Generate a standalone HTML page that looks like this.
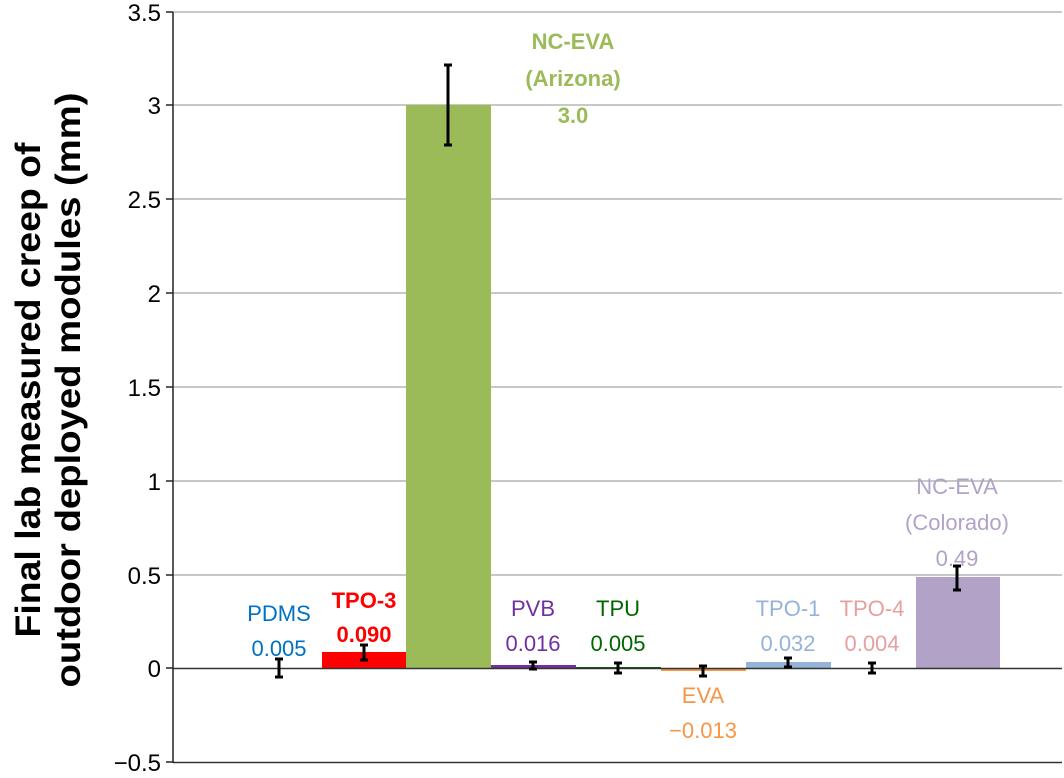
<!DOCTYPE html>
<html><head><meta charset="utf-8"><style>
html,body{margin:0;padding:0;background:#fff}
text{font-family:"Liberation Sans",sans-serif}
</style></head><body>
<svg width="1064" height="773" viewBox="0 0 1064 773" xmlns="http://www.w3.org/2000/svg">
<g stroke="#a6a6a6" stroke-width="1.3">
<line x1="173" x2="1062" y1="12" y2="12"/><line x1="173" x2="1062" y1="105" y2="105"/>
<line x1="173" x2="1062" y1="199" y2="199"/><line x1="173" x2="1062" y1="293" y2="293"/>
<line x1="173" x2="1062" y1="387" y2="387"/><line x1="173" x2="1062" y1="481" y2="481"/>
<line x1="173" x2="1062" y1="575" y2="575"/>
</g>
<rect x="322" y="652" width="84" height="16" fill="#ff0000"/>
<rect x="406" y="105" width="85" height="563" fill="#9bbb59"/>
<rect x="491" y="665" width="85" height="3" fill="#7030a0"/>
<rect x="576" y="667" width="85" height="1" fill="#006600"/>
<rect x="661" y="668" width="85" height="3" fill="#f79646"/>
<rect x="746" y="662" width="85" height="6" fill="#95b3d7"/>
<rect x="916" y="577" width="84" height="91" fill="#b2a2c7"/>
<line x1="173" x2="1062" y1="668.5" y2="668.5" stroke="#333" stroke-width="1.5"/>
<line x1="173" x2="1062" y1="762.5" y2="762.5" stroke="#333" stroke-width="1.5"/>
<line x1="173" x2="173" y1="12" y2="763" stroke="#222" stroke-width="1.5"/>
<g stroke="#222" stroke-width="1.5">
<line x1="166" x2="173" y1="12" y2="12"/><line x1="166" x2="173" y1="105" y2="105"/>
<line x1="166" x2="173" y1="199" y2="199"/><line x1="166" x2="173" y1="293" y2="293"/>
<line x1="166" x2="173" y1="387" y2="387"/><line x1="166" x2="173" y1="481" y2="481"/>
<line x1="166" x2="173" y1="575" y2="575"/><line x1="166" x2="173" y1="668" y2="668"/>
<line x1="166" x2="173" y1="762" y2="762"/>
</g>
<g stroke="#000" stroke-width="3">
<path d="M279 659V677M275 659H283M275 677H283"/>
<path d="M364 645V660M360 645H368M360 660H368"/>
<path d="M448 65V145M444 65H452M444 145H452"/>
<path d="M533 662V669M529 662H537M529 669H537"/>
<path d="M618 663V673M614 663H622M614 673H622"/>
<path d="M703 666V676M699 666H707M699 676H707"/>
<path d="M788 658V667M784 658H792M784 667H792"/>
<path d="M872 663V673M868 663H876M868 673H876"/>
<path d="M957 566V590M953 566H961M953 590H961"/>
</g>
<g font-size="24" fill="#000" text-anchor="end">
<text x="161" y="21">3.5</text><text x="161" y="114">3</text><text x="161" y="208">2.5</text>
<text x="161" y="302">2</text><text x="161" y="396">1.5</text><text x="161" y="490">1</text>
<text x="161" y="584">0.5</text><text x="161" y="677">0</text><text x="161" y="771">−0.5</text>
</g>
<g transform="translate(40,390) rotate(-90)" font-size="35" font-weight="bold" text-anchor="middle">
<text x="0" y="0" textLength="495" lengthAdjust="spacingAndGlyphs">Final lab measured creep of</text>
<text x="0" y="40" textLength="595" lengthAdjust="spacingAndGlyphs">outdoor deployed modules (mm)</text>
</g>
<g font-size="22" text-anchor="middle">
<text x="279" y="621" fill="#0070c0">PDMS</text><text x="279" y="656" fill="#0070c0">0.005</text>
<text x="364" y="608" fill="#ff0000" font-weight="bold">TPO-3</text><text x="364" y="642" fill="#ff0000" font-weight="bold">0.090</text>
<text x="573" y="49" fill="#9bbb59" font-weight="bold">NC-EVA</text>
<text x="573" y="86" fill="#9bbb59" font-weight="bold">(Arizona)</text>
<text x="573" y="123" fill="#9bbb59" font-weight="bold">3.0</text>
<text x="533" y="616" fill="#7030a0">PVB</text><text x="533" y="651" fill="#7030a0">0.016</text>
<text x="618" y="616" fill="#006600">TPU</text><text x="618" y="651" fill="#006600">0.005</text>
<text x="703" y="703" fill="#f79646">EVA</text><text x="703" y="738" fill="#f79646">−0.013</text>
<text x="788" y="616" fill="#95b3d7">TPO-1</text><text x="788" y="651" fill="#95b3d7">0.032</text>
<text x="872" y="616" fill="#e6a0a0">TPO-4</text><text x="872" y="651" fill="#e6a0a0">0.004</text>
<text x="957" y="494" fill="#b2a2c7">NC-EVA</text>
<text x="957" y="530" fill="#b2a2c7">(Colorado)</text>
<text x="957" y="566" fill="#b2a2c7">0.49</text>
</g>
</svg>
</body></html>
